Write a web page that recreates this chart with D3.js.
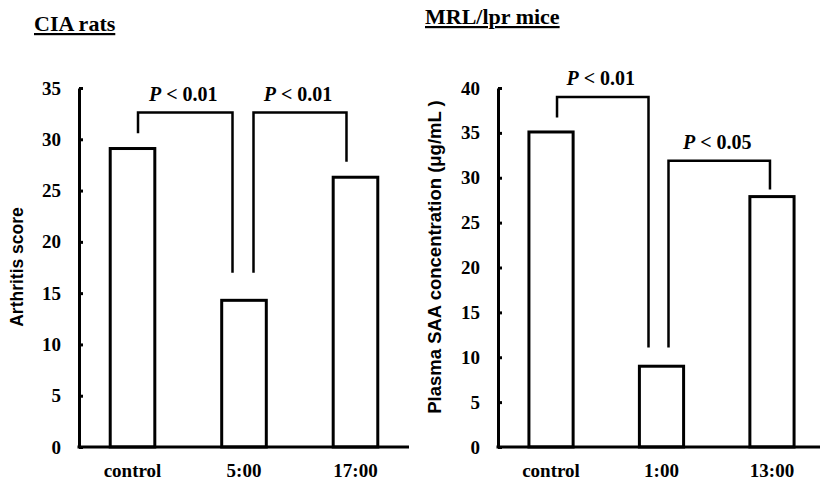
<!DOCTYPE html>
<html>
<head>
<meta charset="utf-8">
<script src="https://cdn.jsdelivr.net/npm/d3@7"></script>
<style>
  body { margin: 0; background: #fff; }
  text { fill: #000; }
</style>
</head>
<body>
<div id="chart"></div>
<script>
// CIA rats
var ciaGroups = ["control", "5:00", "17:00"];
var ciaScores = [29.1, 14.3, 26.3];
var ciaTicks = [0, 5, 10, 15, 20, 25, 30, 35];
// brackets: [from, to, top, left leg end, right leg end, p label]
var ciaBrackets = [
  [0, 1, 32.6, 30.6, 17.0, "0.01"],
  [1, 2, 32.6, 17.0, 27.8, "0.01"]
];

// MRL/lpr mice
var mrlGroups = ["control", "1:00", "13:00"];
var mrlSAA = [35.1, 9.0, 27.9];
var mrlTicks = [0, 5, 10, 15, 20, 25, 30, 35, 40];
var mrlBrackets = [
  [0, 1, 39.0, 36.7, 11.1, "0.01"],
  [1, 2, 31.9, 11.1, 28.7, "0.05"]
];

var serif = "'Liberation Serif', 'Times New Roman', serif";
var sans = "'Liberation Sans', Arial, sans-serif";

var svg = d3.select("#chart")
  .append("svg")
  .attr("width", 820)
  .attr("height", 483);

function drawPanel(opt) {
  var g = svg.append("g");

  var x = d3.scaleBand()
    .domain(opt.groups)
    .range([opt.left, opt.right])
    .paddingInner(0.6)
    .paddingOuter(0.28);

  var y = d3.scaleLinear()
    .domain([0, opt.max])
    .range([447, 88]);

  // title
  g.append("text")
    .attr("x", opt.titleX)
    .attr("y", opt.titleY)
    .style("font-family", serif)
    .style("font-weight", "bold")
    .style("font-size", "22px")
    .style("text-decoration", "underline")
    .text(opt.title);

  // bars
  g.selectAll("rect.bar")
    .data(opt.values)
    .enter()
    .append("rect")
    .attr("class", "bar")
    .attr("x", (d, i) => x(opt.groups[i]))
    .attr("y", d => y(d))
    .attr("width", x.bandwidth())
    .attr("height", d => y(0) - y(d))
    .attr("fill", "#fff")
    .attr("stroke", "#000")
    .attr("stroke-width", 3);

  // y axis
  var yAxis = g.append("g")
    .attr("transform", "translate(" + opt.left + ",0)")
    .call(d3.axisLeft(y).tickValues(opt.ticks).tickSize(-4).tickSizeOuter(0).tickPadding(18));
  yAxis.select(".domain").attr("stroke-width", 3);
  yAxis.selectAll(".tick line").attr("stroke-width", 3);
  yAxis.selectAll("text")
    .style("font-family", serif)
    .style("font-weight", "bold")
    .style("font-size", "19px");

  // x axis
  var xAxis = g.append("g")
    .attr("transform", "translate(0," + y(0) + ")")
    .call(d3.axisBottom(x).tickSize(0).tickPadding(17));
  xAxis.select(".domain")
    .attr("d", "M" + (opt.left - 1.5) + ",0H" + opt.right)
    .attr("stroke-width", 3);
  xAxis.selectAll("text")
    .style("font-family", serif)
    .style("font-weight", "bold")
    .style("font-size", "19px");

  // y axis label
  g.append("text")
    .attr("transform", "translate(" + opt.labelX + "," + opt.labelY + ") rotate(-90)")
    .attr("text-anchor", "middle")
    .style("font-family", sans)
    .style("font-weight", "bold")
    .style("font-size", opt.labelSize + "px")
    .text(opt.yLabel);

  // significance brackets
  opt.brackets.forEach(function (b, i) {
    var x1 = x(opt.groups[b[0]]) + x.bandwidth() / 2 + opt.legOffsets[i][0];
    var x2 = x(opt.groups[b[1]]) + x.bandwidth() / 2 + opt.legOffsets[i][1];
    var path = d3.path();
    path.moveTo(x1, y(b[3]));
    path.lineTo(x1, y(b[2]));
    path.lineTo(x2, y(b[2]));
    path.lineTo(x2, y(b[4]));
    g.append("path")
      .attr("d", path.toString())
      .attr("fill", "none")
      .attr("stroke", "#000")
      .attr("stroke-width", 2.5);

    var t = g.append("text")
      .attr("x", (x1 + x2) / 2 - 2)
      .attr("y", y(b[2]) - 12)
      .attr("text-anchor", "middle")
      .style("font-family", serif)
      .style("font-weight", "bold")
      .style("font-size", "20px");
    t.append("tspan").style("font-style", "italic").text("P");
    t.append("tspan").text(" < " + b[5]);
  });
}

drawPanel({
  title: "CIA rats", titleX: 34, titleY: 31,
  groups: ciaGroups, values: ciaScores, ticks: ciaTicks, max: 35,
  left: 79, right: 409,
  yLabel: "Arthritis score", labelX: 23, labelY: 267, labelSize: 17.5,
  brackets: ciaBrackets,
  legOffsets: [[5.5, -11.5], [9.5, -9]]
});

drawPanel({
  title: "MRL/lpr mice", titleX: 425, titleY: 24,
  groups: mrlGroups, values: mrlSAA, ticks: mrlTicks, max: 40,
  left: 498, right: 825,
  yLabel: "Plasma SAA concentration (\u03bcg/mL )", labelX: 441, labelY: 257, labelSize: 18.5,
  brackets: mrlBrackets,
  legOffsets: [[6, -13], [7, -2]]
});
</script>
</body>
</html>
